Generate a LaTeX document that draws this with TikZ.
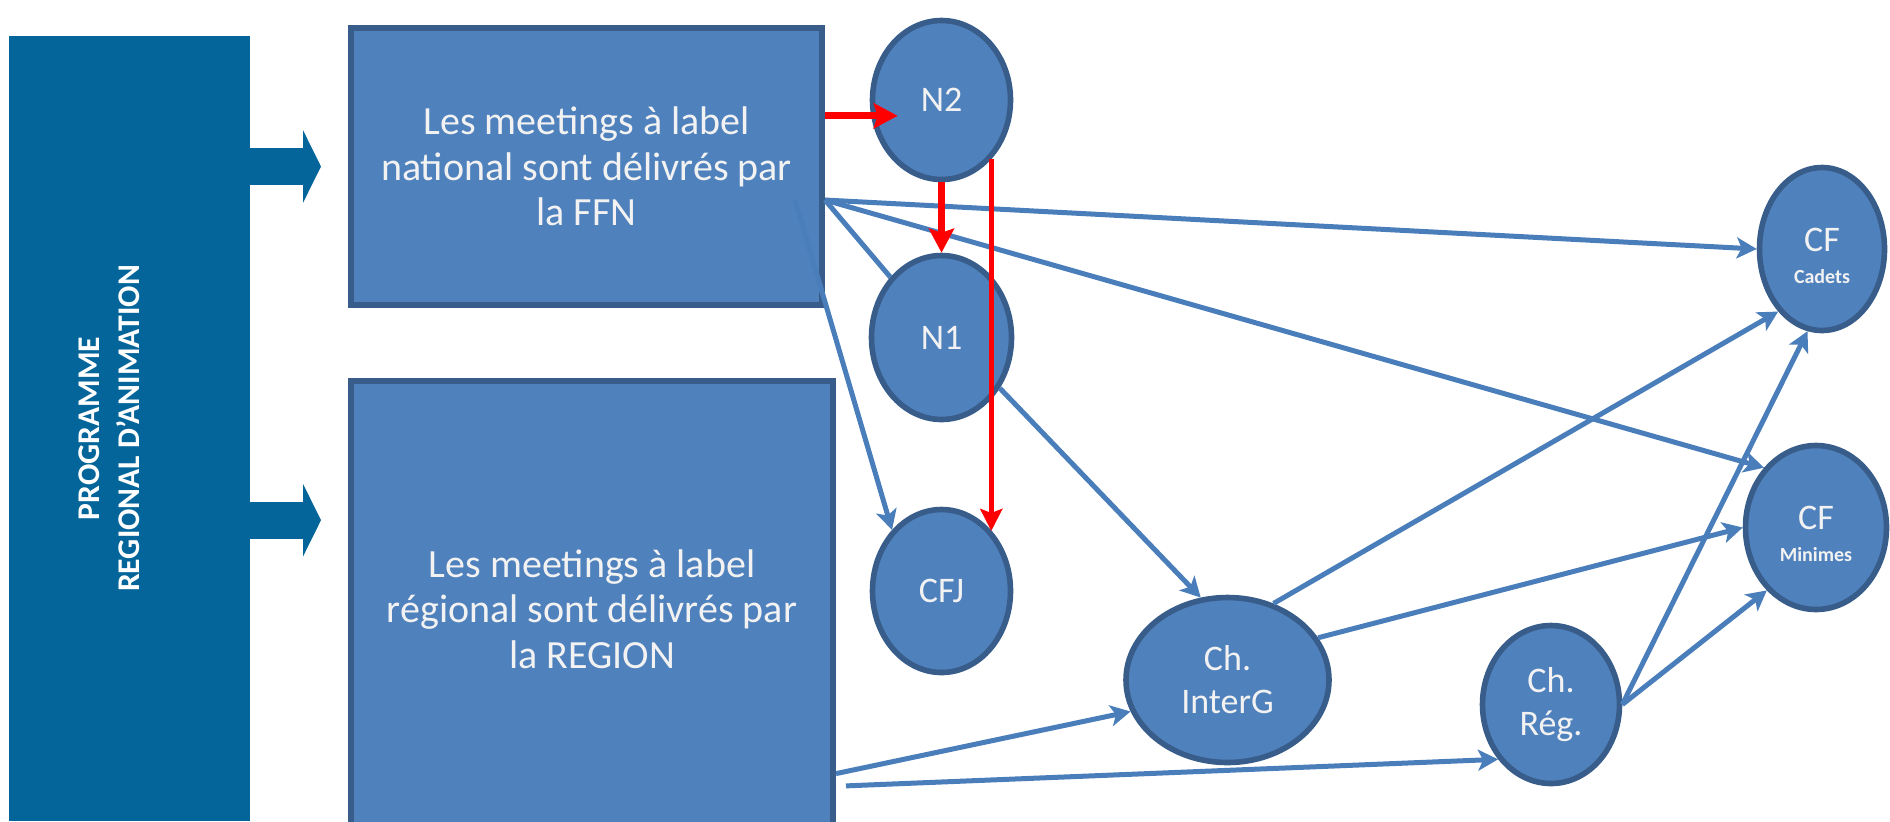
\documentclass[tikz,border=0pt]{standalone}
\usepackage{fontspec}
\setmainfont{Carlito}
\usetikzlibrary{shapes.geometric,arrows.meta}
\definecolor{barblue}{RGB}{3,101,153}
\definecolor{boxblue}{RGB}{79,129,189}
\definecolor{edgeblue}{RGB}{56,93,138}
\definecolor{lineblue}{RGB}{74,126,187}
\definecolor{txt}{RGB}{242,242,242}
\begin{document}
\begin{tikzpicture}[x=0.5pt,y=-0.5pt,
  bx/.style={rectangle,fill=boxblue,draw=edgeblue,line width=3pt,text=txt,align=center,inner sep=0pt,font=\fontsize{20}{22.75}\selectfont},
  ele/.style={ellipse,fill=boxblue,draw=edgeblue,line width=2.8pt,text=txt,align=center,inner sep=0pt,font=\fontsize{18}{21.5}\selectfont},
  fat/.style={barblue,line width=18.5pt,-{Triangle[length=9pt,width=36pt]},shorten >=13.5pt},
  link/.style={lineblue,line width=2.5pt,-{Stealth[length=10pt,width=10.5pt,inset=2.5pt]}},
  hot/.style={red,line width=3.5pt,-{Stealth[length=12pt,width=12.5pt,inset=2pt]}}]
  \clip (0,0) rectangle (1890,821);
  \node[fill=barblue,minimum width=120.5pt,minimum height=392.5pt,inner sep=0pt] (bar) at (129.5,428.5) {};
  \node[rotate=90,text=white,align=center,font=\fontsize{15.8}{20}\selectfont\bfseries] (prog) at (109.5,428.5) {PROGRAMME\\REGIONAL D’ANIMATION};

  \node[bx,minimum width=235.5pt,minimum height=138.5pt] (ffn) at (586.5,166.5) {Les meetings à label\\national sont délivrés par\\la FFN};
  \node[bx,minimum width=241pt,minimum height=228pt] (rgn) at (592,609) {Les meetings à label\\régional sont délivrés par\\la REGION};

  \node[ele,minimum width=69pt,minimum height=79.5pt] (n2) at (941.5,100) {N2};
  \node[ele,minimum width=70pt,minimum height=82pt] (n1) at (941.5,337.5) {N1};
  \node[ele,minimum width=69pt,minimum height=81.5pt] (cfj) at (941.5,591) {CFJ};
  \node[ele,minimum width=101.5pt,minimum height=82.5pt] (inter) at (1227.5,680) {Ch.\\InterG};
  \node[ele,minimum width=68.5pt,minimum height=79pt] (creg) at (1551,704.5) {Ch.\\Rég.};
  \node[ele,minimum width=62.5pt,minimum height=81.5pt] (cfc) at (1822,249) {\rule{0pt}{19pt}CF\\[-5.5pt]{\fontsize{10}{12}\selectfont\bfseries Cadets}};
  \node[ele,minimum width=70.5pt,minimum height=82pt] (cfm) at (1816,527.5) {\rule{0pt}{18pt}CF\\[-5.5pt]{\fontsize{10}{12}\selectfont\bfseries Minimes}};

  \draw[fat] (bar.east |- ffn.west) -- (ffn.west);
  \draw[fat] (bar.east |- rgn.160) -- (rgn.160);

  \draw[link,-] (ffn.-8) -- (n1);
  \draw[link] ([xshift=-15pt]ffn.-8) -- (cfj.129);
  \draw[link] (ffn.-8) -- (cfc.west);
  \draw[link] (ffn.-8) -- (cfm.131);
  \draw[link] (n1.-41) -- (inter.108);
  \draw[link] (inter.59) -- (cfc.-125);
  \draw[link] (inter.25) -- (cfm.west);
  \draw[link] (rgn.-34) -- (inter.198);
  \draw[link,shorten <=5pt] (rgn.-36) -- (creg.226);
  \draw[link] (creg.east) -- (cfc.-100);
  \draw[link] (creg.east) -- (cfm.232);

  \draw[hot,shorten >=-14pt] (ffn.12) -- (ffn.12 -| n2.west);
  \draw[hot] (n2) -- (n1);
  \draw[hot,line width=2.5pt,-{Stealth[length=11pt,width=11pt,inset=2pt]}] (n2.-50) -- (cfj.50 -| n2.-50);
\end{tikzpicture}
\end{document}
